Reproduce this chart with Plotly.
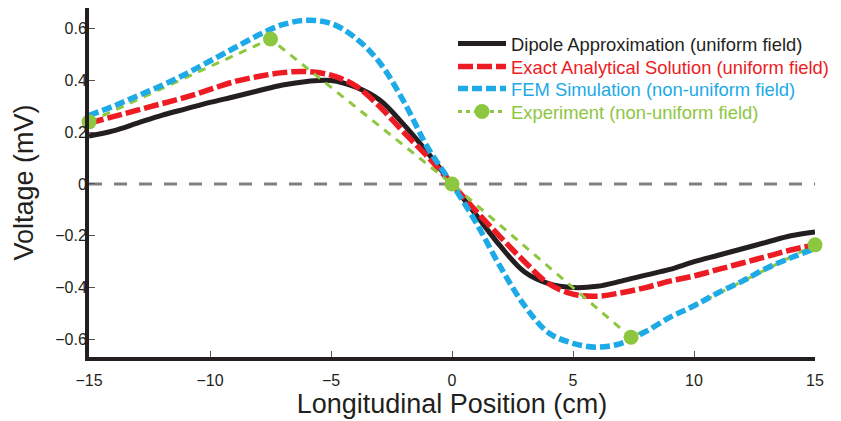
import plotly.graph_objects as go

positions = list(range(-15, 16))
dipole = [0.185, 0.205, 0.235, 0.265, 0.29, 0.315, 0.337, 0.36, 0.382, 0.396, 0.40, 0.375, 0.325, 0.23, 0.12, 0.0,
          -0.12, -0.24, -0.34, -0.385, -0.40, -0.395, -0.375, -0.352, -0.33, -0.30, -0.275, -0.25, -0.225, -0.20, -0.185]
exact = [0.235, 0.26, 0.285, 0.31, 0.335, 0.365, 0.395, 0.415, 0.43, 0.434, 0.42, 0.38, 0.30, 0.20, 0.105, 0.0,
         -0.105, -0.205, -0.30, -0.385, -0.425, -0.433, -0.42, -0.40, -0.375, -0.355, -0.33, -0.305, -0.28, -0.255, -0.235]
fem = [0.265, 0.30, 0.34, 0.38, 0.425, 0.475, 0.525, 0.575, 0.615, 0.632, 0.62, 0.565, 0.47, 0.32, 0.14, 0.0,
       -0.15, -0.32, -0.47, -0.575, -0.615, -0.63, -0.615, -0.57, -0.515, -0.47, -0.42, -0.375, -0.325, -0.285, -0.25]
exp_x = [-15, -7.5, 0, 7.4, 15]
exp_y = [0.24, 0.56, 0.0, -0.592, -0.235]

x_ticks = [-15, -10, -5, 0, 5, 10, 15]
x_labels = ["\u221215", "\u221210", "\u22125", "0", "5", "10", "15"]
y_ticks = [-0.6, -0.4, -0.2, 0, 0.2, 0.4, 0.6]
y_labels = ["\u22120.6", "\u22120.4", "\u22120.2", "0", "0.2", "0.4", "0.6"]

FONT = "Liberation Sans, Arial, sans-serif"
BLACK = "#231f20"
RED = "#ed1c24"
BLUE = "#1eaae7"
GREEN = "#8dc63f"

fig = go.Figure()
fig.add_hline(y=0, line=dict(color="#808080", width=3, dash="13px,12px"), layer="below")

fig.add_trace(go.Scatter(x=positions, y=dipole, mode="lines", name="Dipole Approximation (uniform field)",
                         line=dict(color=BLACK, width=5, shape="spline"), legend="legend"))
fig.add_trace(go.Scatter(x=positions, y=exact, mode="lines", name="Exact Analytical Solution (uniform field)",
                         line=dict(color=RED, width=5.5, dash="15px,4px", shape="spline"), legend="legend2"))
fig.add_trace(go.Scatter(x=exp_x, y=exp_y, mode="lines", name="Experiment (non-uniform field)",
                         line=dict(color=GREEN, width=3, dash="8px,7px"),
                         showlegend=False, hoverinfo="skip"))
fig.add_trace(go.Scatter(x=positions, y=fem, mode="lines", name="FEM Simulation (non-uniform field)",
                         line=dict(color=BLUE, width=5.5, dash="10px,4px", shape="spline"), legend="legend3"))
fig.add_trace(go.Scatter(x=exp_x, y=exp_y, mode="markers", name="Experiment (non-uniform field)",
                         marker=dict(size=15, color=GREEN), cliponaxis=False, showlegend=False))
# legend-only entry for experiment
fig.add_trace(go.Scatter(x=[None], y=[None], mode="lines+markers", name="Experiment (non-uniform field)",
                         line=dict(color=GREEN, width=3, dash="4px,4px"),
                         marker=dict(size=15, color=GREEN), legend="legend4"))


def leg(ypos, color):
    return dict(x=0.5014, y=ypos, xanchor="left", yanchor="top", bgcolor="rgba(0,0,0,0)",
                font=dict(size=18.4, family=FONT, color=color), itemwidth=48)


fig.update_layout(
    width=841, height=421,
    margin=dict(l=81, r=34, t=0, b=72),
    paper_bgcolor="white", plot_bgcolor="white",
    font=dict(family=FONT, color=BLACK),
    showlegend=True,
    legend=leg(0.9513, BLACK),
    legend2=leg(0.8854, RED),
    legend3=leg(0.8223, BLUE),
    legend4=leg(0.7564, GREEN),
)
fig.update_xaxes(range=[-15, 15], tickvals=x_ticks, ticktext=x_labels, automargin=False,
                 showgrid=False, zeroline=False, showline=True, linecolor=BLACK, linewidth=4,
                 ticks="inside", ticklen=6, tickcolor="#555555", tickwidth=1, ticklabelstandoff=6,
                 tickfont=dict(size=16, color=BLACK),
                 title=dict(text="Longitudinal Position (cm)", font=dict(size=27), standoff=0))
fig.update_yaxes(range=[-0.668, 0.6795], tickvals=y_ticks, ticktext=y_labels, automargin=False,
                 showgrid=False, zeroline=False, showline=True, linecolor=BLACK, linewidth=4,
                 ticks="inside", ticklen=6, tickcolor="#555555", tickwidth=1, ticklabelstandoff=-5,
                 tickfont=dict(size=16, color=BLACK),
                 title=dict(text="Voltage (mV)", font=dict(size=27), standoff=15))

fig.write_html("out.html")
